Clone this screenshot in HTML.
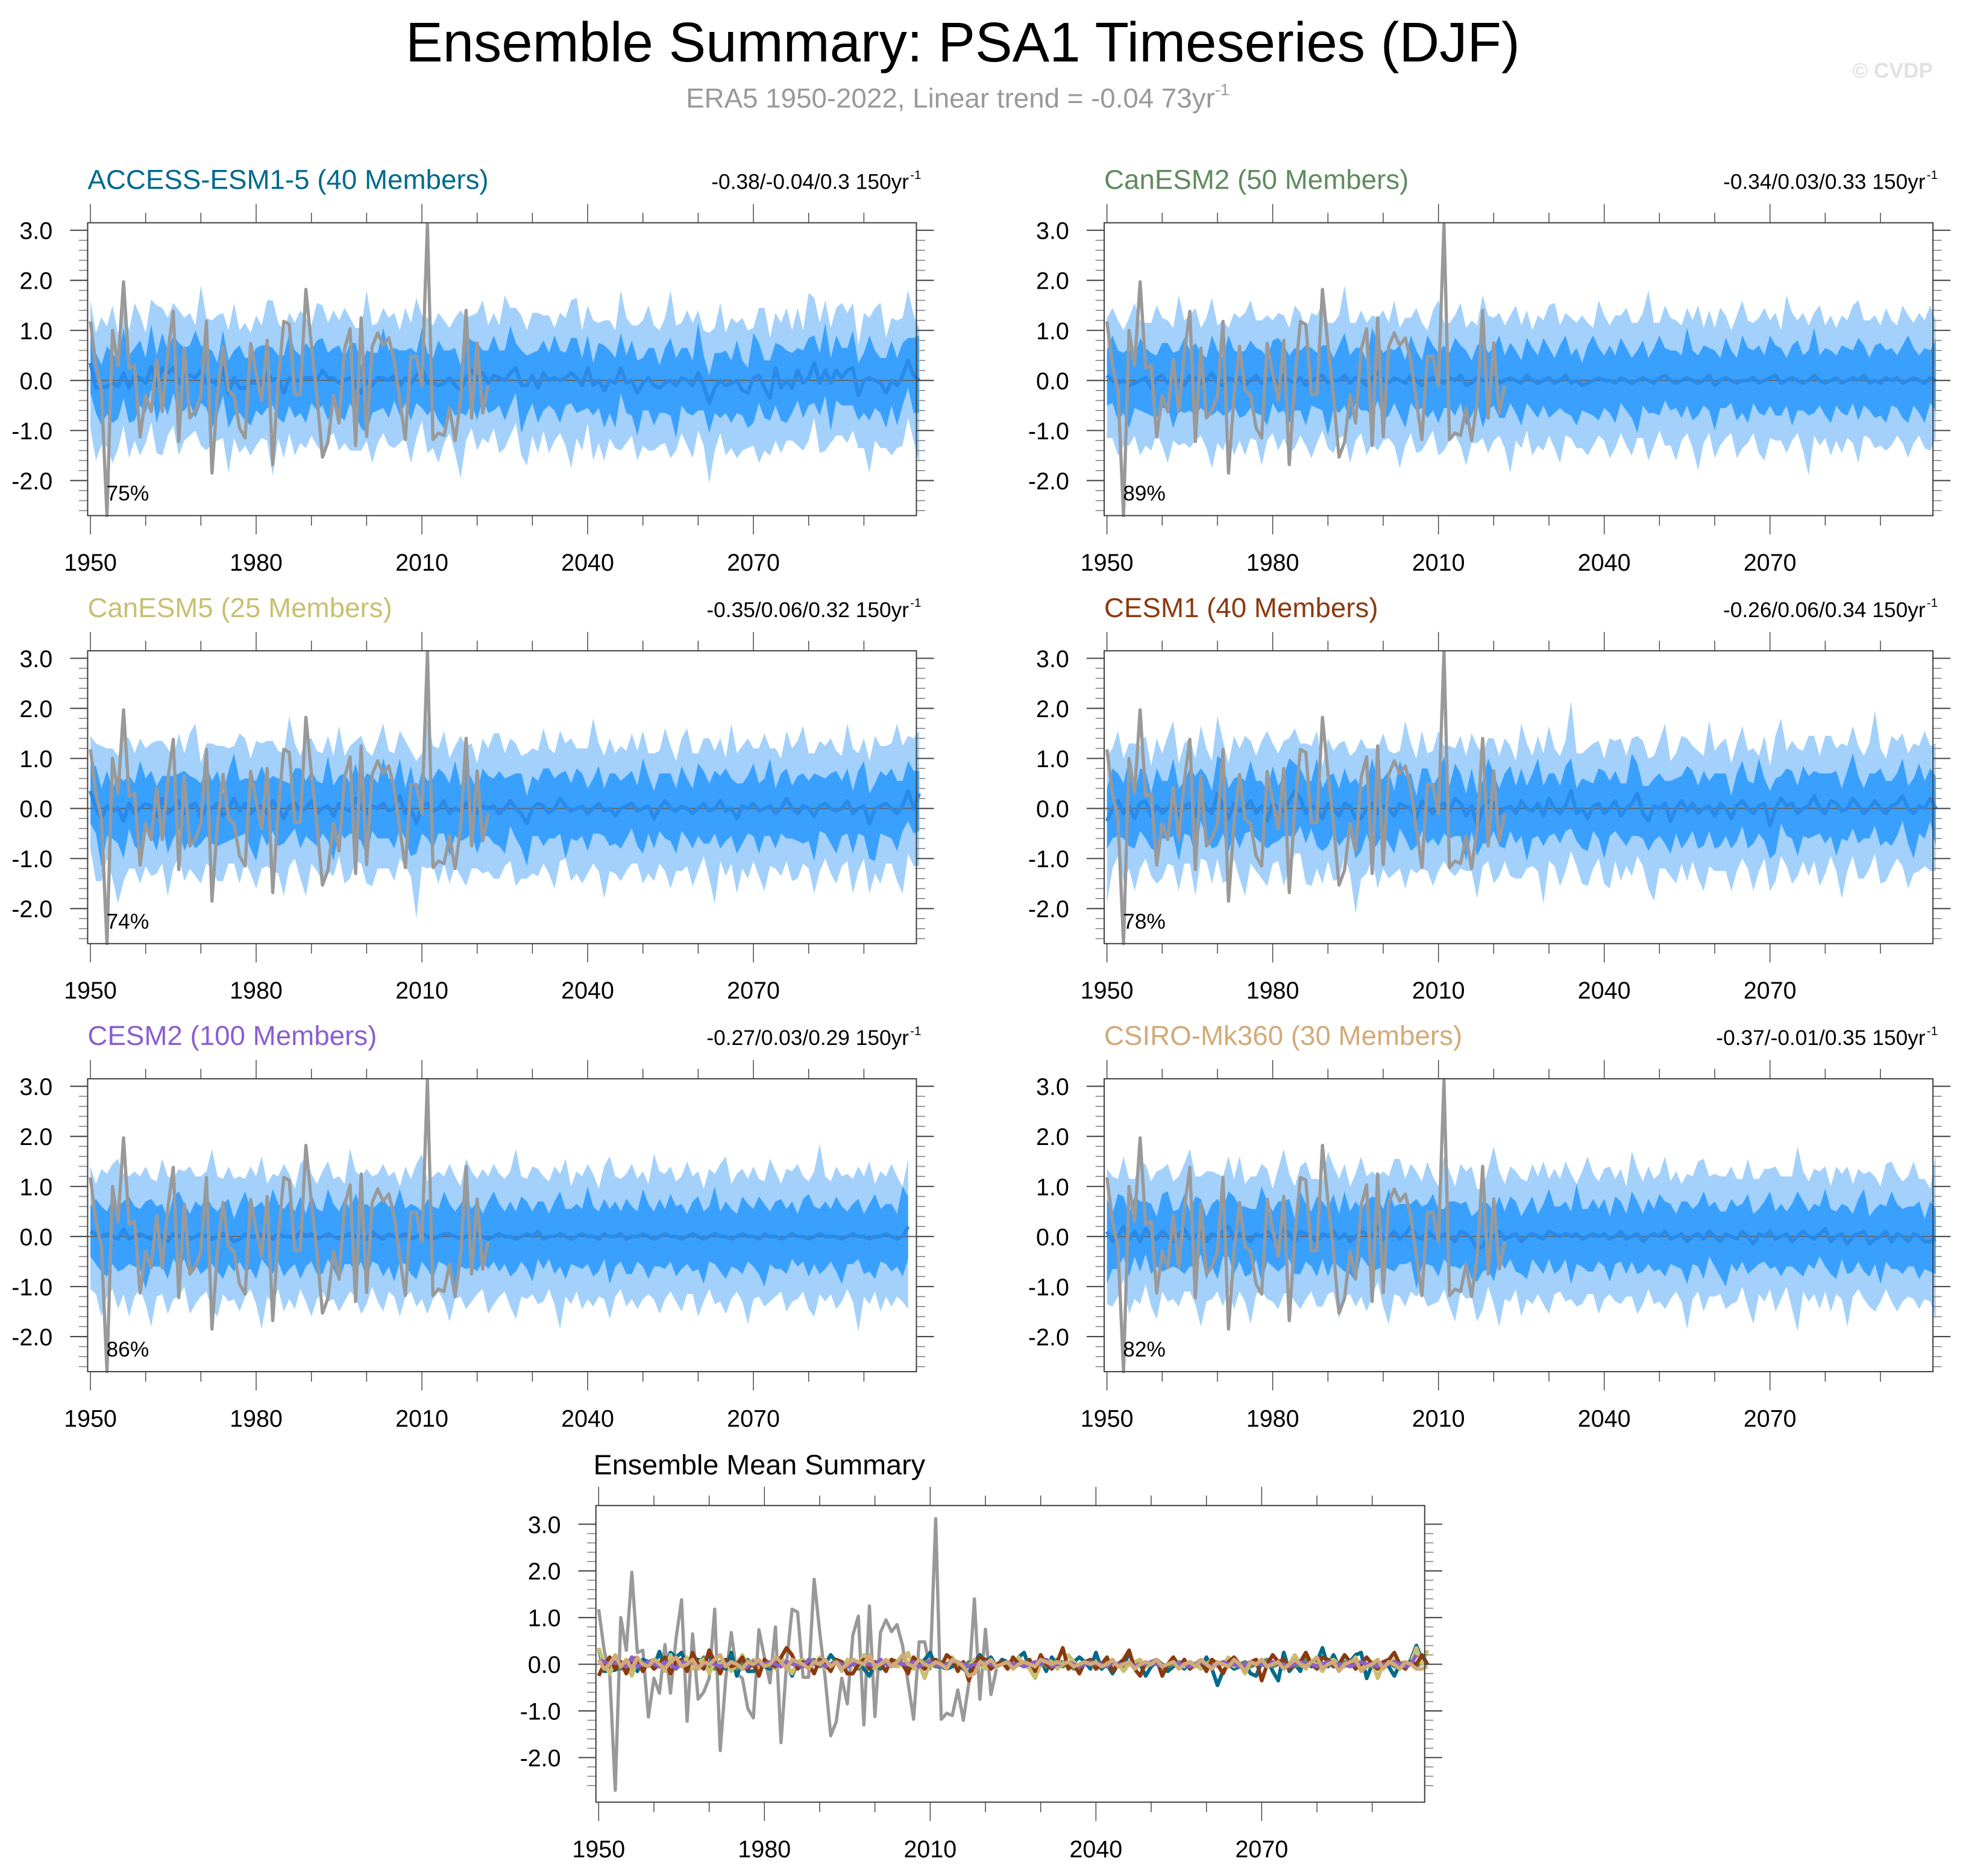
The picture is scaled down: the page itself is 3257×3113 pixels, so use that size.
<!DOCTYPE html>
<html><head><meta charset="utf-8">
<style>
html,body{margin:0;padding:0;background:#fff;}
svg{display:block;font-family:"Liberation Sans",sans-serif;}
</style></head>
<body>
<svg id="chart" width="3257" height="3113" viewBox="0 0 1568 1499" preserveAspectRatio="none" xmlns="http://www.w3.org/2000/svg">
<text x="769" y="49" font-size="44.5" text-anchor="middle" fill="#000">Ensemble Summary: PSA1 Timeseries (DJF)</text>
<text x="765" y="86" font-size="22" text-anchor="middle" fill="#999">ERA5 1950-2022, Linear trend = -0.04 73yr<tspan dy="-10" font-size="13">-1</tspan></text>
<text x="1544" y="62" font-size="17" font-weight="bold" text-anchor="end" fill="#e2e2e2">© CVDP</text>
<g id="panels"></g>
</svg>
<script>
// ---- data ----
const obsYears0 = 1950;
const obsValues = [1.18,0.3,-0.2,-2.7,1.0,0.3,1.97,0.25,0.3,-1.13,-0.3,-0.62,0.42,-0.62,0.55,1.38,-1.22,0.65,-0.75,-0.6,-0.3,1.18,-1.85,-0.3,0.68,-0.2,-0.3,-0.95,-1.15,0.74,0.15,-0.4,0.8,-1.68,0.0,1.18,1.12,-0.28,-0.28,1.82,0.7,-0.3,-1.53,-1.23,-0.3,-0.85,0.62,1.03,-1.3,1.25,-1.12,0.68,0.95,0.7,0.85,0.4,-0.4,-1.18,0.48,0.48,-0.1,3.12,-1.18,-1.05,-1.1,-0.55,-1.2,-0.4,1.4,-0.75,0.75,-0.65,-0.1];
const modelNames = ["ACCESS-ESM1-5","CanESM2","CanESM5","CESM1","CESM2","CSIRO-Mk360"];
const modelMembers = [40,50,25,40,100,30];
const modelColors = ["#006a8c","#5f8a5f","#c8c070","#8b3a0f","#8a5fd0","#d2aa78"];
const modelStats = ["-0.38/-0.04/0.3","-0.34/0.03/0.33","-0.35/0.06/0.32","-0.26/0.06/0.34","-0.27/0.03/0.29","-0.37/-0.01/0.35"];
const modelPct = ["75%","89%","74%","78%","86%","82%"];
const meanAccess = [0.35,-0.15,-0.14,-0.12,-0.05,-0.12,0.15,-0.15,0.1,0.05,-0.05,0.27,-0.1,0.25,0.15,0.25,-0.05,0.1,0.1,0.05,0.2,-0.05,0.0,-0.1,0.25,-0.25,0.05,-0.15,-0.15,-0.05,-0.05,-0.1,0.15,0.0,0.05,-0.25,0.05,0.0,0.0,0.05,0.05,0.0,0.2,0.05,0.05,-0.05,0.0,0.05,-0.1,-0.25,0.0,-0.1,0.05,0.05,0.0,0.1,-0.1,0.05,-0.05,0.1,0.25,-0.05,-0.05,-0.1,-0.05,0.05,-0.1,-0.2,0.05,0.2,0.05,0.15,-0.05,0.1,0.05,0.0,0.15,0.25,-0.1,-0.1,0.1,-0.15,0.15,0.0,0.05,0.0,0.05,0.15,0.05,-0.1,0.25,-0.1,0.0,-0.2,0.0,-0.05,0.25,-0.05,0.0,-0.25,-0.05,0.05,-0.1,-0.15,-0.05,0.0,-0.1,0.05,0.0,-0.1,0.15,-0.1,-0.45,-0.15,0.0,-0.1,-0.05,0.0,-0.2,-0.25,0.05,0.1,-0.15,-0.35,0.25,-0.15,0.0,-0.15,0.2,-0.05,0.05,0.35,-0.05,0.2,-0.05,0.2,0.05,0.2,0.25,-0.3,0.0,0.05,0.0,-0.05,-0.25,0.0,-0.1,0.1,0.4,0.1,0.0];
const meanCan2 = [0.1,0.0,-0.05,0.0,-0.1,-0.05,0.0,0.05,-0.15,0.05,0.1,-0.05,0.0,0.0,-0.1,0.1,0.05,-0.05,0.0,0.15,-0.05,-0.1,0.05,0.0,0.05,-0.1,0.0,0.1,-0.05,0.0,0.05,-0.05,0.1,0.0,-0.05,0.05,-0.1,0.0,0.05,0.1,-0.05,0.0,0.0,0.1,-0.05,0.05,0.0,-0.1,0.05,0.15,0.0,-0.05,0.05,0.0,-0.05,0.1,0.0,-0.1,0.0,0.05,0.0,-0.05,0.05,0.0,0.1,-0.1,-0.05,0.05,0.0,0.0,0.05,-0.05,0.0,0.05,0.0,-0.05,0.1,0.0,-0.05,0.0,0.05,-0.05,0.0,0.1,-0.05,0.0,-0.1,-0.05,0.0,0.05,0.0,0.0,-0.05,0.05,0.0,-0.05,0.0,0.05,0.0,-0.05,0.05,0.1,0.0,-0.05,0.0,0.05,0.0,-0.05,0.0,0.1,-0.1,0.0,0.05,0.0,-0.05,0.0,0.0,0.05,-0.05,0.0,0.05,0.1,-0.05,0.0,0.05,0.0,-0.05,0.0,0.1,0.0,-0.05,0.0,0.05,-0.05,0.0,0.05,0.0,0.1,-0.05,0.0,-0.05,0.05,0.0,0.05,-0.05,0.0,0.05,0.0,-0.05,0.05,0.0];
const meanCan5 = [0.35,0.0,-0.2,0.05,-0.05,0.0,-0.25,0.1,-0.1,0.0,0.1,0.05,-0.15,0.2,-0.1,0.0,0.15,-0.1,0.05,0.1,-0.2,0.05,0.0,0.1,-0.15,0.0,0.2,-0.05,0.1,-0.1,0.0,0.05,-0.1,0.15,0.0,-0.2,0.05,0.1,-0.05,0.0,0.15,-0.1,0.0,0.05,-0.15,0.1,0.0,-0.05,0.2,0.0,-0.1,0.05,0.0,0.1,-0.05,0.0,0.25,-0.1,0.0,-0.3,0.05,0.1,-0.05,0.0,0.15,-0.1,0.0,-0.05,0.1,0.0,-0.1,0.05,0.0,0.05,-0.1,0.0,0.15,0.0,-0.1,-0.3,0.0,0.1,0.05,-0.1,0.0,0.2,0.05,-0.05,0.0,0.05,-0.1,0.0,0.1,-0.05,0.0,-0.15,0.0,0.05,0.1,-0.05,0.0,0.05,-0.2,0.0,0.15,0.0,-0.05,0.05,0.0,-0.1,0.0,0.1,-0.05,0.0,0.15,-0.05,0.0,-0.2,0.05,0.0,0.1,-0.05,0.0,0.05,-0.1,0.0,0.2,0.0,-0.1,0.05,0.0,-0.15,0.05,0.1,0.0,-0.05,0.0,0.15,-0.1,0.0,0.05,-0.3,0.0,0.05,0.1,0.0,-0.1,0.05,0.35,0.0,0.3];
const meanCesm1 = [-0.25,0.0,0.15,-0.1,0.05,-0.2,0.1,0.15,-0.15,0.05,-0.1,0.0,0.15,-0.2,0.05,0.1,-0.15,0.25,0.0,-0.1,0.3,0.05,-0.2,0.1,-0.05,0.0,0.15,-0.1,0.05,-0.25,0.1,0.0,-0.05,0.15,0.35,0.2,-0.1,0.05,0.0,-0.2,0.1,0.0,-0.15,0.1,0.05,-0.2,-0.2,0.0,0.1,-0.1,0.05,0.0,-0.15,0.1,0.05,0.0,-0.2,0.15,0.0,-0.1,0.05,0.1,-0.05,0.2,0.1,-0.15,0.05,-0.35,0.0,0.15,0.1,-0.1,0.0,0.05,-0.1,0.15,0.0,-0.05,0.1,-0.15,0.2,0.0,-0.1,0.05,0.35,-0.1,0.0,-0.2,0.05,0.1,-0.1,0.0,0.15,-0.15,0.0,0.1,0.3,-0.1,-0.25,0.05,0.0,0.1,-0.25,0.0,0.15,-0.05,0.1,-0.1,0.0,0.05,-0.15,0.1,0.0,-0.2,0.05,0.15,0.0,-0.1,0.05,0.1,-0.35,0.0,0.2,0.05,0.1,-0.1,0.0,0.05,0.25,0.0,-0.1,0.15,0.1,-0.05,0.0,0.2,0.05,-0.1,0.0,0.15,0.0,-0.1,0.05,0.1,0.25,0.0,-0.1,0.05,0.0,0.2,0.0];
const meanCesm2 = [0.1,0.05,0.0,0.05,0.0,-0.05,0.15,-0.05,0.0,0.05,0.0,-0.05,0.05,0.0,-0.1,0.05,0.0,0.05,-0.05,0.0,0.05,0.0,-0.05,0.0,0.05,0.0,-0.1,-0.05,0.05,0.0,0.0,0.05,0.0,-0.05,0.05,0.0,0.0,-0.05,0.1,0.0,0.05,-0.05,0.0,0.05,0.0,-0.05,0.0,0.05,0.0,0.0,-0.05,0.1,0.0,-0.05,0.05,0.0,0.0,0.05,-0.05,0.0,0.05,0.0,-0.05,0.0,0.05,0.05,0.0,-0.05,0.0,0.0,0.05,0.0,-0.05,0.0,0.05,0.0,0.0,-0.05,0.0,0.05,0.0,0.1,-0.05,0.0,0.0,0.05,0.0,-0.05,0.0,0.05,0.0,0.0,-0.05,0.05,0.0,0.0,0.05,-0.05,0.0,0.0,0.05,0.0,-0.05,0.0,0.05,0.0,0.0,-0.05,0.0,0.05,0.0,-0.05,0.0,0.05,0.0,0.0,-0.05,0.0,0.05,0.0,0.0,-0.05,0.05,0.0,0.0,-0.05,0.0,0.05,0.0,0.0,-0.05,0.0,0.05,0.0,0.0,0.0,-0.05,0.0,0.05,0.0,0.0,-0.05,0.0,0.0,0.05,0.0,-0.05,0.0,0.2];
const meanCsiro = [0.1,-0.1,0.0,0.2,-0.05,0.1,-0.1,0.15,0.0,-0.05,0.1,0.0,-0.1,0.05,0.15,-0.05,0.0,0.1,-0.1,0.05,0.0,0.1,0.2,-0.05,0.05,0.0,-0.1,0.05,0.0,0.1,-0.05,0.0,0.15,0.05,-0.1,0.1,0.05,0.0,-0.1,0.05,0.0,0.1,-0.05,0.05,-0.1,0.0,0.1,0.05,0.0,0.2,-0.05,0.0,0.1,-0.05,0.05,0.2,0.0,-0.05,0.1,0.0,-0.05,0.05,0.0,-0.1,0.1,0.05,-0.05,-0.25,-0.2,0.05,0.0,0.1,-0.05,0.0,0.05,-0.1,0.0,0.05,0.0,-0.05,0.1,0.05,0.0,0.05,0.0,0.05,-0.05,0.0,0.05,0.0,0.05,-0.05,0.0,0.1,-0.05,0.0,0.05,-0.1,0.0,0.05,0.0,0.1,-0.05,0.0,0.05,-0.1,0.0,0.05,-0.05,0.1,0.0,-0.1,0.05,0.0,-0.05,0.1,0.0,-0.15,0.05,0.0,0.1,-0.05,0.0,0.05,-0.1,0.0,0.1,0.0,-0.05,0.05,0.15,-0.1,0.0,0.05,-0.15,0.0,0.05,0.1,-0.15,-0.05,0.0,0.1,-0.1,0.05,0.0,-0.1,0.05,0.0,-0.1,-0.1,-0.05];
const modelMeans = [meanAccess,meanCan2,meanCan5,meanCesm1,meanCesm2,meanCsiro];
// spreads relative to the ensemble mean (25-75 / 10-90 percentiles)
const innerUp = [0.55,0.7,0.45,0.8,0.6,0.5,0.9,0.65,0.55,0.75,0.5,0.85,0.6,0.7,0.45,0.65,0.8,0.55,0.6,0.95,0.5,0.7,0.6,0.45,0.75,0.65,0.55,0.85,0.6,0.5,0.7,0.8,0.55,0.65,0.45,0.75,0.9,0.6,0.5,0.7,0.55,0.8,0.65,0.5,0.6,0.75,0.45,0.7,0.85,0.55,0.6,0.65,0.5,1.0,0.6,0.55,0.7];
const innerDn = [0.6,0.5,0.75,0.55,0.8,0.65,0.5,0.7,0.9,0.55,0.6,0.45,0.75,0.65,0.85,0.5,0.6,0.7,0.55,0.8,0.65,0.5,0.95,0.6,0.55,0.7,0.75,0.5,0.65,0.85,0.55,0.6,0.7,0.5,0.8,0.6,0.55,0.75,0.65,0.9,0.5,0.6,0.7,0.85,0.55,0.65,0.8,0.5,0.6,0.7,1.05,0.55,0.65,0.6,0.75,0.5];
const outerUp = [1.25,1.1,1.4,1.2,1.55,1.05,1.3,1.15,1.45,1.25,1.0,1.35,1.6,1.2,1.1,1.3,1.45,1.15,1.25,1.05,1.7,1.3,1.2,1.4,1.1,1.25,1.5,1.15,1.3,1.0,1.35,1.2,1.45,1.6,1.1,1.25,1.3,1.15,1.4,1.2,1.05,1.55,1.3,1.1,1.35,1.25,1.45,1.2,1.15,1.3,1.8,1.2,1.1,1.4,1.25];
const outerDn = [1.3,1.45,1.15,1.2,1.6,1.25,1.05,1.4,1.3,1.55,1.2,1.1,1.35,1.75,1.25,1.15,1.45,1.3,1.2,1.05,1.5,1.35,1.25,1.1,1.4,1.6,1.2,1.3,1.15,1.45,1.25,1.05,1.35,1.9,1.2,1.3,1.1,1.5,1.25,1.4,1.15,1.3,1.65,1.2,1.1,1.35,1.25,1.45,1.3,1.15,1.2,1.55,1.3,1.1];

// ---- drawing ----
const NS = "http://www.w3.org/2000/svg";
const root = document.getElementById('panels');
function el(tag, attrs, parent){
  const e = document.createElementNS(NS, tag);
  for (const k in attrs) e.setAttribute(k, attrs[k]);
  (parent||root).appendChild(e);
  return e;
}
function makeAxes(bx, by, bw, bh, yTop, yBot){
  const X = yr => bx + (yr - 1949.5) * bw / 150;
  const Y = v => by + (yTop - v) * bh / (yTop - yBot);
  return {X, Y};
}
function drawFrame(g, bx, by, bw, bh, ax){
  for (let yr = 1950; yr <= 2090; yr += 10){
    const major = (yr - 1950) % 30 === 0;
    const L = major ? 15 : 8;
    const x = ax.X(yr);
    const t1 = el('line',{x1:x,x2:x,y1:by,y2:by-L,stroke:'#444','stroke-width':0.7},g);
    
    
    const t2 = el('line',{x1:x,x2:x,y1:by+bh,y2:by+bh+L,stroke:'#444','stroke-width':0.7},g);
    
    
    if (major){
      const lab = el('text',{x:x,y:by+bh+44,'font-size':19,'text-anchor':'middle',fill:'#000'},g);
      
      
      lab.textContent = yr;
    }
  }
  for (let k = -13; k <= 15; k++){
    const v = k / 5;
    const y = ax.Y(v);
    if (y < by || y > by + bh) continue;
    const major = k % 5 === 0;
    const L = major ? 14 : 7;
    const c = major ? '#444' : '#888';
    const a = el('line',{x1:bx,x2:bx-L,y1:y,y2:y,stroke:c,'stroke-width':major?1:0.8},g);
    
    
    const b = el('line',{x1:bx+bw,x2:bx+bw+L,y1:y,y2:y,stroke:c,'stroke-width':major?1:0.8},g);
    
    
    if (major){
      const lab = el('text',{x:bx-28,y:y+7,'font-size':19,'text-anchor':'end',fill:'#000'},g);
      
      
      lab.textContent = v.toFixed(1);
    }
  }
  const fr = el('rect',{x:bx,y:by,width:bw,height:bh,fill:'none',stroke:'#444','stroke-width':1},g);
  
  
}
function linePath(arr, y0, ax){
  return arr.map((v,i)=> (i?'L':'M') + ax.X(y0+i).toFixed(2) + ',' + ax.Y(v).toFixed(2)).join('');
}
function bandPath(mean, up, dn, off, ax){
  const top = mean.map((m,i)=> [ax.X(1950+i), ax.Y(m + up[(i+off)%up.length])]);
  const bot = mean.map((m,i)=> [ax.X(1950+i), ax.Y(m - dn[(i+off*2)%dn.length])]).reverse();
  return 'M' + top.concat(bot).map(p=>p[0].toFixed(2)+','+p[1].toFixed(2)).join('L') + 'Z';
}
const colX = [70, 882], rowY = [178, 520, 862];
modelNames.forEach((name, m) => {
  const bx = colX[m % 2], by = rowY[Math.floor(m / 2)], bw = 662, bh = 234;
  const g = el('g', {});
  
  
  const ax = makeAxes(bx, by, bw, bh, 3.15, -2.7);
  const outer = el('path',{d:bandPath(modelMeans[m], outerUp, outerDn, m*7, ax), fill:'#a3d1fb'},g);
  
  
  const inner = el('path',{d:bandPath(modelMeans[m], innerUp, innerDn, m*5, ax), fill:'#3aa0fe'},g);
  
  
  const z = el('line',{x1:bx,x2:bx+bw,y1:ax.Y(0),y2:ax.Y(0),stroke:'#666','stroke-width':1},g);
  
  
  const ml = el('path',{d:linePath(modelMeans[m],1950,ax),fill:'none',stroke:'#2a8ae8','stroke-width':3,'stroke-linejoin':'round'},g);
  
  
  const ol = el('path',{d:linePath(obsValues,obsYears0,ax),fill:'none',stroke:'#999','stroke-width':2.6,'stroke-linejoin':'round'},g);
  
  
  drawFrame(g, bx, by, bw, bh, ax);
  const t = el('text',{x:bx,y:by-27,'font-size':22,fill:modelColors[m]},g);
  
  
  t.textContent = name + ' (' + modelMembers[m] + ' Members)';
  const s = el('text',{x:bx+bw-6,y:by-27,'font-size':17,'text-anchor':'end',fill:'#000'},g);
  
  
  s.textContent = modelStats[m] + ' 150yr';
  const sup = el('text',{x:bx+bw-5,y:by-35,'font-size':10,fill:'#000'},g);
  
  
  sup.textContent = '-1';
  const p = el('text',{x:bx+15,y:by+bh-12,'font-size':17,fill:'#000'},g);
  
  
  p.textContent = modelPct[m];
});
(function(){
  const bx = 476, by = 1203, bw = 662, bh = 237;
  const g = el('g', {});
  
  
  const ax = makeAxes(bx, by, bw, bh, 3.40, -2.955);
  const z = el('line',{x1:bx,x2:bx+bw,y1:ax.Y(0),y2:ax.Y(0),stroke:'#666','stroke-width':1},g);
  
  
  const ol = el('path',{d:linePath(obsValues,obsYears0,ax),fill:'none',stroke:'#999','stroke-width':2.6,'stroke-linejoin':'round'},g);
  
  
  modelMeans.forEach((arr, m) => {
    const l = el('path',{d:linePath(arr,1950,ax),fill:'none',stroke:modelColors[m],'stroke-width':3,'stroke-linejoin':'round'},g);
    
    
  });
  drawFrame(g, bx, by, bw, bh, ax);
  const t = el('text',{x:bx-2,y:by-25,'font-size':22.5,fill:'#000'},g);
  
  
  t.textContent = 'Ensemble Mean Summary';
})();
</script>
</body></html>
